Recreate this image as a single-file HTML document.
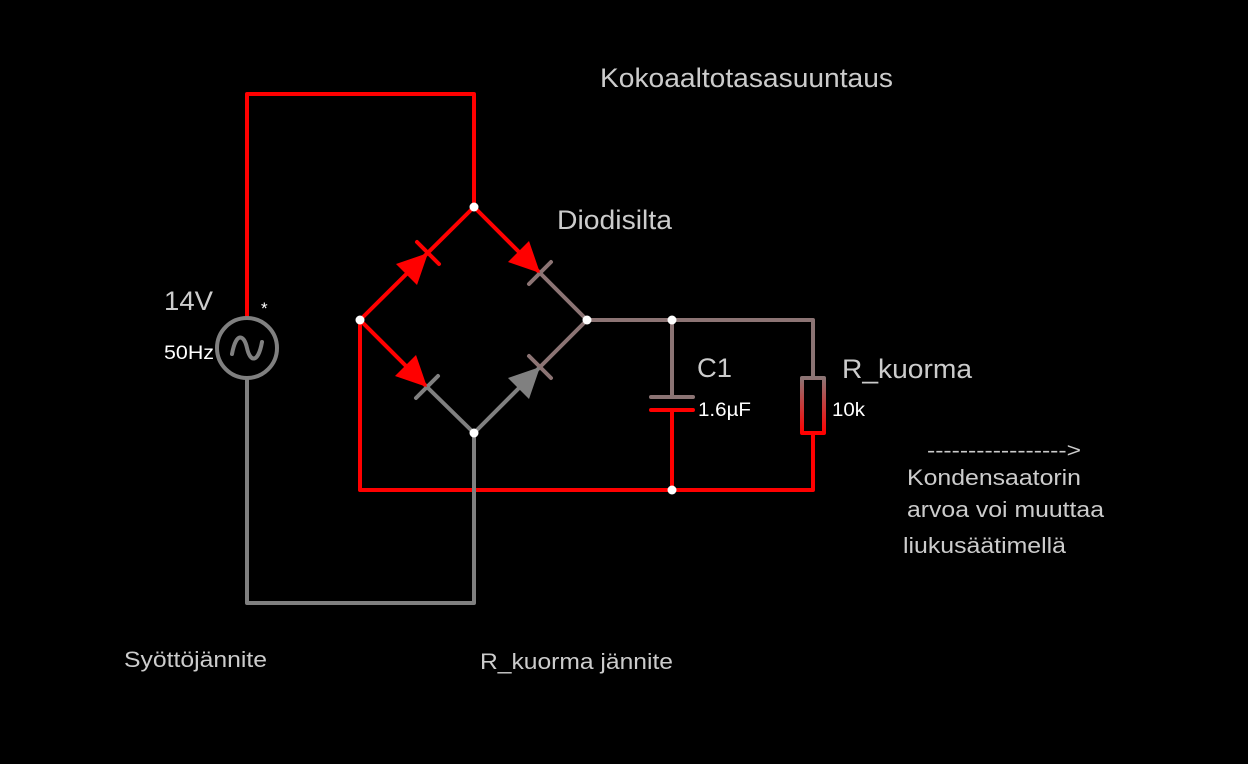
<!DOCTYPE html>
<html><head><meta charset="utf-8"><style>
html,body{margin:0;padding:0;background:#000;}
svg{display:block;font-family:"Liberation Sans",sans-serif;}
</style></head><body>
<svg width="1248" height="764" viewBox="0 0 1248 764">
<defs><linearGradient id="rg" x1="0" y1="0" x2="0" y2="1"><stop offset="0" stop-color="#8c7474"/><stop offset="1" stop-color="#ff0000"/></linearGradient></defs>
<g fill="none" stroke-width="4" stroke-linecap="round" stroke-linejoin="round">
<polyline stroke="#ff0000" points="247,318 247,94 474,94 474,207"/>
<polyline stroke="#ff0000" points="360,320 474,207 540,273"/>
<polyline stroke="#8c7474" points="540,273 587,320 813,320 813,378"/>
<line stroke="#8c7474" x1="672" y1="320" x2="672" y2="397"/>
<polyline stroke="#ff0000" points="360,320 360,490 813,490 813,433"/>
<line stroke="#ff0000" x1="672" y1="410" x2="672" y2="490"/>
<line stroke="#ff0000" x1="360" y1="320" x2="427" y2="387"/>
<polyline stroke="#808080" points="427,387 474,433 540,367"/>
<line stroke="#8c7474" x1="540" y1="367" x2="587" y2="320"/>
<polyline stroke="#808080" points="247,378 247,603 474,603 474,433"/>
<line stroke="#ff0000" x1="417" y1="242" x2="439" y2="264"/>
<line stroke="#8c7474" x1="529" y1="284" x2="551" y2="262"/>
<line stroke="#808080" x1="416" y1="398" x2="438" y2="376"/>
<line stroke="#8c7474" x1="529" y1="356" x2="551" y2="378"/>
<line stroke="#8c7474" x1="651" y1="397" x2="693" y2="397"/>
<line stroke="#ff0000" x1="651" y1="410" x2="693" y2="410"/>
<rect x="802" y="378" width="22" height="55" stroke="url(#rg)"/>
<circle cx="247" cy="348" r="30" stroke="#808080"/>
<path stroke="#808080" d="M232,354 C236,332 244,334 247,348 C250,362 258,364 262,342"/>
</g>
<g>
<polygon fill="#ff0000" points="428,253 396,264 417,285"/>
<polygon fill="#ff0000" points="540,273 508,262 529,241"/>
<polygon fill="#ff0000" points="427,387 395,376 416,355"/>
<polygon fill="#808080" points="540,367 529,399 508,378"/>
</g>
<g fill="#fff">
<circle cx="474" cy="207" r="4.5"/><circle cx="360" cy="320" r="4.5"/><circle cx="587" cy="320" r="4.5"/><circle cx="474" cy="433" r="4.5"/><circle cx="672" cy="320" r="4.5"/><circle cx="672" cy="490" r="4.5"/>
</g>
<g fill="#cccccc" font-size="27" lengthAdjust="spacingAndGlyphs">
<text x="600" y="87" textLength="293" lengthAdjust="spacingAndGlyphs">Kokoaaltotasasuuntaus</text>
<text x="557" y="229" textLength="115" lengthAdjust="spacingAndGlyphs">Diodisilta</text>
<text x="164" y="310" textLength="49" lengthAdjust="spacingAndGlyphs">14V</text>
<text x="697" y="377" textLength="35" lengthAdjust="spacingAndGlyphs">C1</text>
<text x="842" y="378" textLength="130" lengthAdjust="spacingAndGlyphs">R_kuorma</text>
</g>
<g fill="#fff" font-size="19">
<text x="164" y="359" textLength="50" lengthAdjust="spacingAndGlyphs">50Hz</text>
<text x="261" y="314" font-size="17">*</text>
<text x="698" y="416" textLength="53" lengthAdjust="spacingAndGlyphs">1.6µF</text>
<text x="832" y="416" textLength="33" lengthAdjust="spacingAndGlyphs">10k</text>
</g>
<g fill="#cccccc" font-size="22">
<text x="927" y="457" font-size="20" textLength="154" lengthAdjust="spacingAndGlyphs">-----------------&gt;</text>
<text x="907" y="485" textLength="174" lengthAdjust="spacingAndGlyphs">Kondensaatorin</text>
<text x="907" y="517" textLength="197" lengthAdjust="spacingAndGlyphs">arvoa voi muuttaa</text>
<text x="903" y="553" textLength="163" lengthAdjust="spacingAndGlyphs">liukusäätimellä</text>
<text x="124" y="667" textLength="143" lengthAdjust="spacingAndGlyphs">Syöttöjännite</text>
<text x="480" y="669" textLength="193" lengthAdjust="spacingAndGlyphs">R_kuorma jännite</text>
</g>
</svg>
</body></html>
